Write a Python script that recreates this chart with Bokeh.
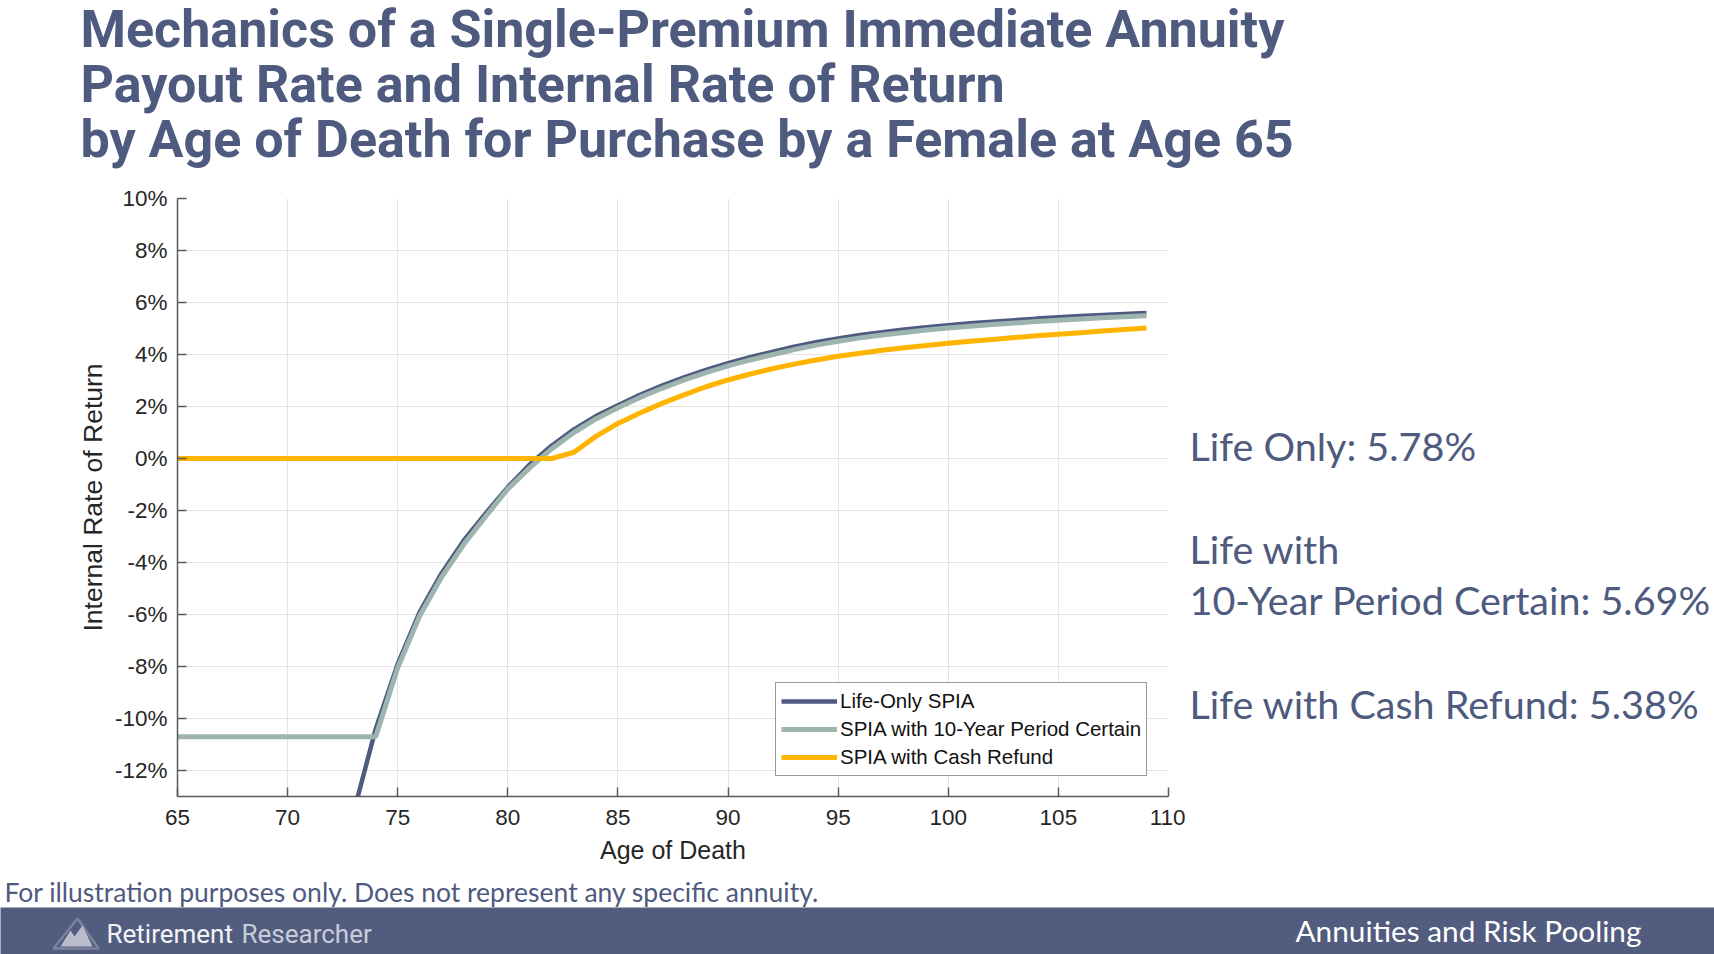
from bokeh.plotting import figure
from bokeh.models import Label, PolyAnnotation, Legend, LegendItem, Range1d
from bokeh.layouts import column, row
from bokeh.embed import file_html
from bokeh.resources import INLINE

# ---------------- data ----------------
ages = list(range(65, 110))

life_only = [-100.0, -88.0, -70.0, -54.0, -42.0, -32.0, -24.0, -17.6, -13.6, -10.4,
             -7.9, -5.9, -4.4, -3.15, -2.1, -1.1, -0.22, 0.5, 1.12, 1.63,
             2.05, 2.45, 2.8, 3.12, 3.41, 3.67, 3.9, 4.1, 4.3, 4.47,
             4.62, 4.75, 4.86, 4.96, 5.05, 5.13, 5.2, 5.26, 5.32, 5.38,
             5.43, 5.48, 5.52, 5.56, 5.6]

period_certain = [-10.7, -10.7, -10.7, -10.7, -10.7, -10.7, -10.7, -10.7, -10.7, -10.7,
                  -8.05, -6.05, -4.55, -3.3, -2.22, -1.17, -0.35, 0.38, 1.0, 1.52,
                  1.95, 2.35, 2.7, 3.02, 3.3, 3.56, 3.79, 3.99, 4.19, 4.36,
                  4.51, 4.64, 4.75, 4.85, 4.94, 5.02, 5.09, 5.15, 5.21, 5.27,
                  5.32, 5.37, 5.41, 5.45, 5.49]

cash_refund = [0.0, 0.0, 0.0, 0.0, 0.0, 0.0, 0.0, 0.0, 0.0, 0.0,
               0.0, 0.0, 0.0, 0.0, 0.0, 0.0, 0.0, 0.0, 0.24, 0.85,
               1.35, 1.75, 2.12, 2.45, 2.76, 3.02, 3.25, 3.45, 3.63, 3.79,
               3.93, 4.05, 4.16, 4.26, 4.35, 4.43, 4.51, 4.58, 4.65, 4.72,
               4.78, 4.84, 4.9, 4.96, 5.02]

series_names = ["Life-Only SPIA", "SPIA with 10-Year Period Certain", "SPIA with Cash Refund"]
x_ticks = [65, 70, 75, 80, 85, 90, 95, 100, 105, 110]
y_ticks = [-12, -10, -8, -6, -4, -2, 0, 2, 4, 6, 8, 10]
y_tick_labels = ["-12%", "-10%", "-8%", "-6%", "-4%", "-2%", "0%", "2%", "4%", "6%", "8%", "10%"]

title_lines = ["Mechanics of a Single-Premium Immediate Annuity",
               "Payout Rate and Internal Rate of Return",
               "by Age of Death for Purchase by a Female at Age 65"]
side_notes = ["Life Only: 5.78%", "Life with", "10-Year Period Certain: 5.69%",
              "Life with Cash Refund: 5.38%"]
footnote = "For illustration purposes only. Does not represent any specific annuity."
brand = ["Retirement", "Researcher"]
section = "Annuities and Risk Pooling"

# ---------------- styles ----------------
NAVY = "#4E5A80"
SAGE = "#9DB5AE"
GOLD = "#FFB400"
TXT = "#4E5A7E"
BANNER = "#525C7E"

PAGE_W = 1714
TITLE_H = 170
CHART_TOP, CHART_H = 170, 705
CHART_W = 1185
NOTE_H = 32
BANNER_H = 954 - CHART_TOP - CHART_H - NOTE_H
FRAME_TOP, FRAME_BOTTOM = 198, 796   # page px of the chart frame


def canvas(w, h, bg="white", xr=None, yr=None, border=0):
    f = figure(width=w, height=h,
               x_range=xr if xr is not None else Range1d(0, w),
               y_range=yr if yr is not None else Range1d(h, 0),
               x_axis_type=None, y_axis_type=None, output_backend="svg",
               toolbar_location=None, min_border=border)
    f.outline_line_color = None
    f.grid.visible = False
    f.background_fill_color = bg
    f.border_fill_color = bg
    return f


def lab(f, text, x, y, font, size, color, style="normal"):
    f.add_layout(Label(x=x, y=y, text=text, text_font=font, text_font_size=size,
                       text_color=color, text_font_style=style,
                       text_baseline="middle", text_align="left"))


# ---------------- title ----------------
tf = canvas(PAGE_W, TITLE_H)
for line, Y in zip(title_lines, [29, 84, 139]):
    lab(tf, line, 80, Y, "Roboto", "52px", TXT, style="bold")

# ---------------- chart ----------------
FL, FT = 177, FRAME_TOP - CHART_TOP
FB = CHART_TOP + CHART_H - FRAME_BOTTOM
FR = CHART_W - 1168
p = figure(width=CHART_W, height=CHART_H, x_range=(65, 110), y_range=(-13, 10),
           output_backend="svg", toolbar_location=None,
           min_border_left=FL, min_border_right=FR, min_border_top=FT, min_border_bottom=FB)
p.outline_line_color = None
p.xgrid.grid_line_color = "#E4E4E4"
p.ygrid.grid_line_color = "#E4E4E4"
p.xaxis.ticker = x_ticks
p.yaxis.ticker = y_ticks
p.yaxis.major_label_overrides = {t: l for t, l in zip(y_ticks, y_tick_labels)}
for ax in (p.xaxis, p.yaxis):
    ax.axis_line_color = "#5A5A5A"
    ax.axis_line_width = 1.5
    ax.major_tick_in = 9
    ax.major_tick_out = 0
    ax.major_tick_line_color = "#5A5A5A"
    ax.major_tick_line_width = 1.5
    ax.minor_tick_line_color = None
    ax.major_label_text_font = "Liberation Sans"
    ax.major_label_text_font_size = "22.5px"
    ax.major_label_text_color = "#262626"
    ax.axis_label_text_font = "Liberation Sans"
    ax.axis_label_text_font_style = "normal"
    ax.axis_label_text_color = "#262626"
p.xaxis.major_label_standoff = 13
p.yaxis.major_label_standoff = 10
p.xaxis.axis_label = "Age of Death"
p.xaxis.axis_label_text_font_size = "25px"
p.xaxis.axis_label_standoff = 8
p.yaxis.axis_label = "Internal Rate of Return"
p.yaxis.axis_label_text_font_size = "26.5px"
p.yaxis.axis_label_standoff = 4

r1 = p.line(ages, life_only, line_color=NAVY, line_width=4.5)
r2 = p.line(ages, period_certain, line_color=SAGE, line_width=5)
r3 = p.line(ages, cash_refund, line_color=GOLD, line_width=5)

legend = Legend(items=[LegendItem(label=series_names[0], renderers=[r1]),
                       LegendItem(label=series_names[1], renderers=[r2]),
                       LegendItem(label=series_names[2], renderers=[r3])],
                location=(775 - FL, FRAME_BOTTOM - 776))
legend.border_line_color = "#333333"
legend.border_line_width = 1
legend.background_fill_color = "white"
legend.background_fill_alpha = 1
legend.label_text_font = "Liberation Sans"
legend.label_text_font_size = "20.5px"
legend.label_text_color = "#111111"
legend.glyph_width = 56
legend.glyph_height = 24
legend.label_height = 26
legend.spacing = 2
legend.padding = 5
legend.margin = 0
legend.label_standoff = 3
p.add_layout(legend, "center")

# ---------------- side notes (frame aligned with the chart frame) ----------------
sf = canvas(PAGE_W - CHART_W, CHART_H,
            xr=Range1d(CHART_W, PAGE_W), yr=Range1d(FRAME_BOTTOM, FRAME_TOP))
for note, Y in zip(side_notes, [445, 548, 599, 703]):
    lab(sf, note, 1189, Y, "Lato", "39.5px", TXT)

# ---------------- footnote ----------------
nf = canvas(PAGE_W, NOTE_H)
lab(nf, footnote, 4, 891 - (CHART_TOP + CHART_H), "Lato", "26.5px", TXT)

# ---------------- banner ----------------
bf = canvas(PAGE_W, BANNER_H, bg=BANNER)
B0 = 954 - BANNER_H
bf.add_layout(PolyAnnotation(xs=[53, 77, 98], ys=[948 - B0, 918 - B0, 948 - B0],
                             fill_alpha=0, line_color="#D8DBE5", line_width=2.5))
bf.add_layout(PolyAnnotation(xs=[60, 70, 74, 82, 92],
                             ys=[946 - B0, 930 - B0, 936 - B0, 925 - B0, 946 - B0],
                             fill_color="#B9BDCC", fill_alpha=1, line_color=None))
lab(bf, brand[0], 106, 933 - B0, "Roboto", "26px", "#F2F3F7")
lab(bf, brand[1], 241, 933 - B0, "Roboto", "26px", "#C9CDDA")
lab(bf, section, 1295, 930 - B0, "Lato", "29.8px", "#FFFFFF")

layout = column(tf, row(p, sf), nf, bf)
open("out.html", "w").write(file_html(layout, INLINE))
